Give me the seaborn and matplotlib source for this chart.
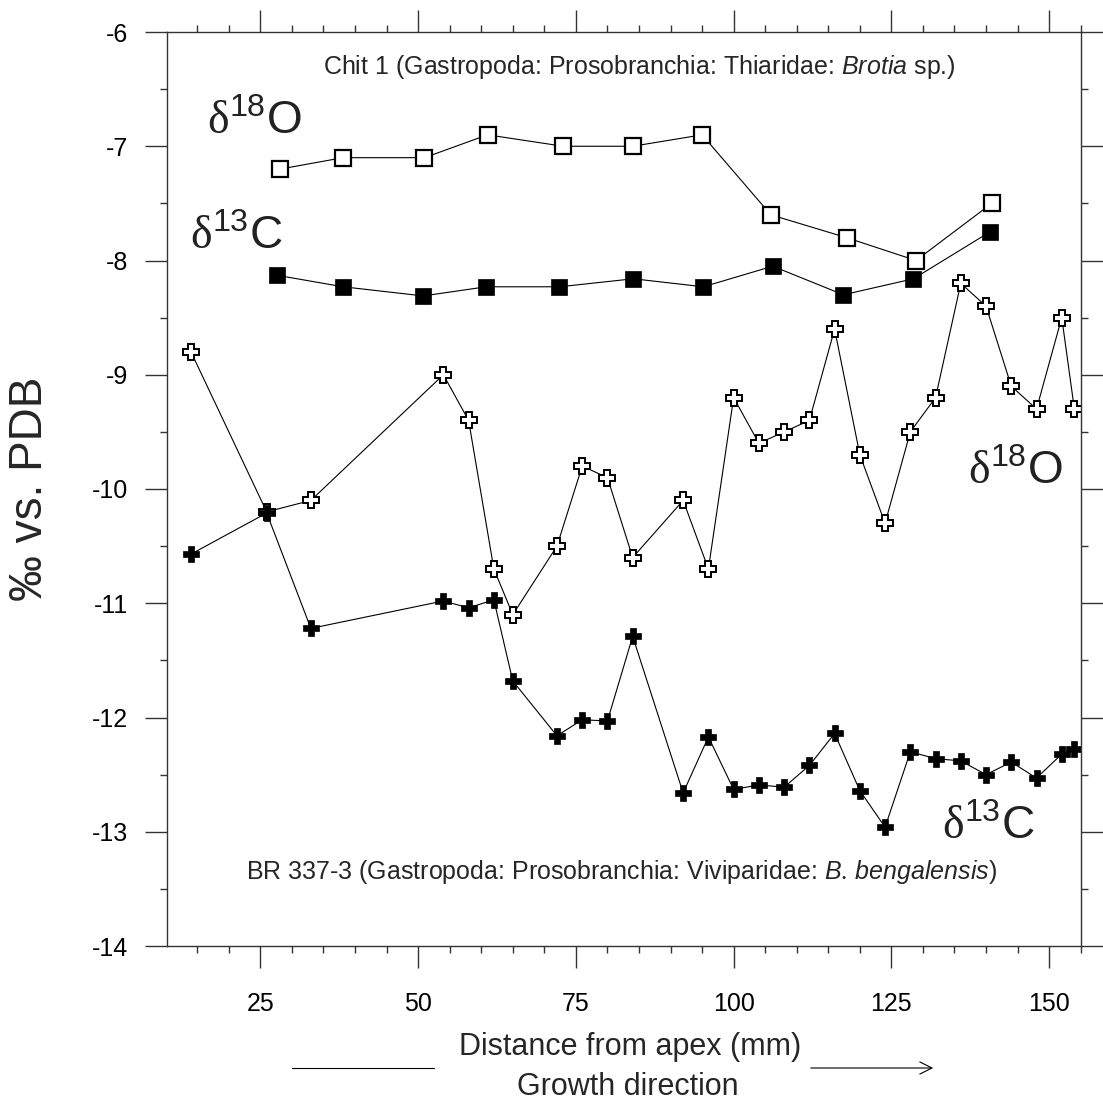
import matplotlib
matplotlib.use("Agg")
import matplotlib.pyplot as plt
from matplotlib.lines import Line2D
from matplotlib.ticker import MultipleLocator
import seaborn as sns

# Chit 1 (Brotia sp.) - squares
chit_o_x = [28.1, 38.1, 51.0, 61.0, 73.0, 84.0, 95.0, 105.9, 117.9, 128.9, 140.9]
chit_d18o = [-7.2, -7.1, -7.1, -6.9, -7.0, -7.0, -6.9, -7.6, -7.8, -8.0, -7.5]
chit_c_x = [27.7, 38.1, 50.8, 60.8, 72.4, 84.1, 95.2, 106.2, 117.4, 128.5, 140.6]
chit_d13c = [-8.13, -8.23, -8.31, -8.23, -8.23, -8.16, -8.23, -8.05, -8.30, -8.16, -7.75]

# BR 337-3 (B. bengalensis) - crosses
br_x = [14, 26, 33, 54, 58, 62, 65, 72, 76, 80, 84, 92, 96, 100,
        104, 108, 112, 116, 120, 124, 128, 132, 136, 140, 144, 148, 152, 154]
br_d18o = [-8.8, -10.2, -10.1, -9.0, -9.4, -10.7, -11.1, -10.5, -9.8, -9.9,
           -10.6, -10.1, -10.7, -9.2, -9.6, -9.5, -9.4, -8.6, -9.7, -10.3,
           -9.5, -9.2, -8.2, -8.4, -9.1, -9.3, -8.5, -9.3]
br_d13c = [-10.57, -10.21, -11.22, -10.98, -11.04, -10.97, -11.68, -12.16, -12.02, -12.03,
           -11.29, -12.66, -12.17, -12.63, -12.59, -12.61, -12.42, -12.14, -12.64, -12.96,
           -12.30, -12.36, -12.38, -12.50, -12.39, -12.53, -12.32, -12.28]

sns.set_style("ticks")
plt.rcParams['font.family'] = ['Liberation Sans', 'DejaVu Sans']
plt.rcParams['axes.unicode_minus'] = False
plt.rcParams['mathtext.fontset'] = 'custom'
plt.rcParams['mathtext.rm'] = 'Liberation Serif'
plt.rcParams['mathtext.sf'] = 'Liberation Sans'
plt.rcParams['mathtext.it'] = 'Liberation Sans:italic'

fig = plt.figure(figsize=(11.03, 11.12), dpi=100)
ax = fig.add_axes([167 / 1103, 1 - 946 / 1112, 914 / 1103, 914 / 1112])

line_kw = dict(color='black', linewidth=0.8, sort=False, estimator=None, legend=False)
sns.lineplot(x=chit_o_x, y=chit_d18o, marker='s', markersize=11, markerfacecolor='white',
             markeredgecolor='black', markeredgewidth=1.6, ax=ax, **line_kw)
sns.lineplot(x=chit_c_x, y=chit_d13c, marker='s', markersize=11.5, markerfacecolor='black',
             markeredgecolor='black', markeredgewidth=0.5, ax=ax, **line_kw)
sns.lineplot(x=br_x, y=br_d18o, marker='P', markersize=11, markerfacecolor='white',
             markeredgecolor='black', markeredgewidth=1.4, ax=ax, **line_kw)
sns.lineplot(x=br_x, y=br_d13c, marker='P', markersize=12, markerfacecolor='black',
             markeredgecolor='black', markeredgewidth=0.5, ax=ax, **line_kw)

ax.set_xlim(10.2, 155.05)
ax.set_ylim(-14, -6)
ax.xaxis.set_major_locator(MultipleLocator(25))
ax.xaxis.set_minor_locator(MultipleLocator(5))
ax.yaxis.set_major_locator(MultipleLocator(1))
ax.yaxis.set_minor_locator(MultipleLocator(0.5))

for s in ax.spines.values():
    s.set_color('#333333')
    s.set_linewidth(1.0)
ax.tick_params(which='both', direction='out', top=True, right=True, color='#333333', width=1.0)
ax.tick_params(which='major', length=16)
ax.tick_params(which='minor', length=5)
ax.tick_params(axis='y', which='major', labelsize=18, pad=12, labelcolor='black')
ax.tick_params(axis='x', which='major', labelsize=18, pad=17, labelcolor='black')

ax.set_xlabel("Distance from apex (mm)", fontsize=22)
ax.xaxis.label.set_va('center')
ax.xaxis.set_label_coords(0.5066, -0.110)
ax.set_ylabel("‰ vs. PDB", fontsize=33)
ax.yaxis.label.set_va('center')
ax.yaxis.set_label_coords(-0.150, 0.5)

fig.text(628 / 1103, 1 - 1087 / 1112, "Growth direction", fontsize=22, ha='center', va='center')
fig.add_artist(Line2D([292 / 1103, 434 / 1103], [1 - 1068 / 1112, 1 - 1068 / 1112],
                      transform=fig.transFigure, color='black', linewidth=0.8))
ax.annotate('', xy=(936 / 1103, 1 - 1068 / 1112), xytext=(808 / 1103, 1 - 1068 / 1112),
            xycoords='figure fraction', textcoords='figure fraction',
            arrowprops=dict(arrowstyle='->', color='black', lw=0.8, mutation_scale=22))

lab_o = r'$\mathrm{\delta}^{\mathsf{18}}\mathsf{O}$'
lab_c = r'$\mathrm{\delta}^{\mathsf{13}}\mathsf{C}$'
ax.text(24.0, -6.79, lab_o, fontsize=33, ha='center', va='center', color='#222222')
ax.text(21.2, -7.79, lab_c, fontsize=33, ha='center', va='center', color='#222222')
ax.text(144.6, -9.85, lab_o, fontsize=33, ha='center', va='center', color='#222222')
ax.text(140.4, -12.96, lab_c, fontsize=33, ha='center', va='center', color='#222222')

ax.text(85.1, -6.31, "Chit 1 (Gastropoda: Prosobranchia: Thiaridae: $\\mathit{Brotia}$ sp.)",
        fontsize=18, ha='center', va='center')
ax.text(82.2, -13.35, "BR 337-3 (Gastropoda: Prosobranchia: Viviparidae: $\\mathit{B.}\\,\\mathit{bengalensis}$)",
        fontsize=18, ha='center', va='center')

fig.savefig("out.png", dpi=100)
